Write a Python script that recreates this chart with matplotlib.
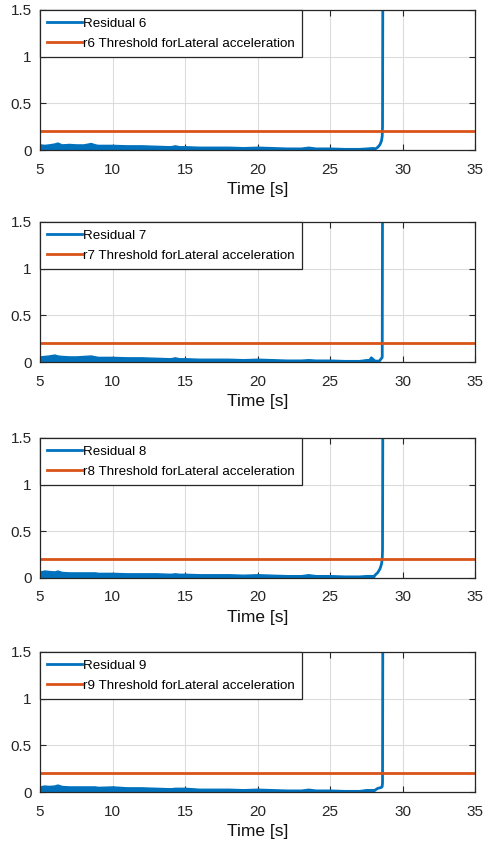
import numpy as np
import matplotlib
matplotlib.use("Agg")
import matplotlib.pyplot as plt

plt.rcParams['font.family'] = ['Liberation Sans', 'DejaVu Sans']

# residual numbers shown in the four panels
panels = [6, 7, 8, 9]
threshold = 0.2

# upper envelope of the noisy residual band (lower edge sits at 0)
t_env = [5, 5.3, 5.6, 6, 6.2, 6.5, 7, 7.5, 8, 8.5, 8.8, 9, 10, 11, 12, 13, 14, 14.3, 14.6, 15, 16,
         17, 18, 19, 20, 21, 22, 23, 23.5, 24, 25, 26, 27, 27.5, 28]
env_r6 = [0.06, 0.055, 0.06, 0.07, 0.08, 0.06, 0.065, 0.06, 0.06, 0.075, 0.06, 0.055, 0.055, 0.05, 0.05, 0.045, 0.04,
          0.05, 0.04, 0.04, 0.035, 0.035, 0.035, 0.03, 0.035, 0.03, 0.025, 0.025, 0.035, 0.025, 0.025, 0.02, 0.02, 0.025, 0.03]
env_r7 = [0.06, 0.065, 0.07, 0.08, 0.07, 0.065, 0.06, 0.06, 0.065, 0.07, 0.06, 0.055, 0.055, 0.05, 0.05, 0.045, 0.04,
          0.05, 0.04, 0.04, 0.035, 0.035, 0.035, 0.03, 0.035, 0.03, 0.025, 0.025, 0.03, 0.025, 0.025, 0.02, 0.02, 0.03, 0.03]
env_r8 = [0.07, 0.08, 0.075, 0.07, 0.08, 0.065, 0.06, 0.06, 0.06, 0.06, 0.06, 0.055, 0.055, 0.05, 0.05, 0.05, 0.045,
          0.05, 0.045, 0.045, 0.04, 0.04, 0.04, 0.035, 0.04, 0.035, 0.03, 0.03, 0.04, 0.03, 0.03, 0.025, 0.025, 0.03, 0.03]
env_r9 = [0.06, 0.07, 0.065, 0.07, 0.08, 0.065, 0.06, 0.06, 0.06, 0.06, 0.06, 0.055, 0.06, 0.05, 0.05, 0.045, 0.04,
          0.045, 0.045, 0.045, 0.035, 0.035, 0.035, 0.03, 0.035, 0.03, 0.025, 0.025, 0.035, 0.025, 0.025, 0.02, 0.02, 0.03, 0.03]
envelopes = [env_r6, env_r7, env_r8, env_r9]

# the rise at the fault time (line continues above the axis)
t_rise = [[28.1, 28.3, 28.45, 28.55, 28.6, 28.62, 28.64],
          [27.7, 27.85, 28.1, 28.4, 28.55, 28.6, 28.62],
          [28.1, 28.3, 28.45, 28.55, 28.6, 28.62, 28.64],
          [28.1, 28.3, 28.45, 28.55, 28.6, 28.62, 28.64]]
r_rise = [[0.01, 0.03, 0.06, 0.1, 0.15, 0.25, 1.7],
          [0.01, 0.045, 0.01, 0.01, 0.04, 0.05, 1.7],
          [0.03, 0.06, 0.1, 0.15, 0.2, 0.3, 1.7],
          [0.02, 0.04, 0.045, 0.05, 0.06, 0.1, 1.7]]

blue = '#0072BD'
orange = '#D95319'
dark = '#262626'

fig = plt.figure(figsize=(4.91, 8.49), dpi=100)
bottoms = [0.8233, 0.5736, 0.3192, 0.0671]

for k, num in enumerate(panels):
    ax = fig.add_axes([0.0815, bottoms[k], 0.886, 0.165])
    env = envelopes[k]
    ax.fill_between(t_env, 0, env, color=blue, lw=1)
    tt = t_env + t_rise[k]
    rr = [0.005] * len(t_env) + r_rise[k]
    ax.plot(tt, rr, color=blue, lw=2, label='Residual %d' % num)
    ax.plot([5, 35], [threshold, threshold], color=orange, lw=2,
            label='r%d Threshold forLateral acceleration' % num)

    ax.set_xlim(5, 35)
    ax.set_ylim(0, 1.5)
    ax.set_xticks([5, 10, 15, 20, 25, 30, 35])
    ax.set_yticks([0, 0.5, 1, 1.5])
    ax.set_yticklabels(['0', '0.5', '1', '1.5'])
    ax.grid(True, color='#dcdcdc', lw=0.8)
    ax.set_axisbelow(True)
    ax.tick_params(direction='in', top=True, right=True, length=4,
                   labelsize=11, colors=dark, width=0.8)
    ax.tick_params(axis='x', pad=9)
    ax.tick_params(axis='y', pad=6)
    for s in ax.spines.values():
        s.set_color(dark)
        s.set_linewidth(0.9)
    ax.set_xlabel('Time [s]', fontsize=12.5, color='#111111', labelpad=4)

    leg = ax.legend(loc='upper left', borderaxespad=0, fontsize=9.6,
                    handlelength=2.6, handletextpad=0.1, borderpad=0.55,
                    labelspacing=0.6, fancybox=False, framealpha=1)
    leg.get_frame().set_edgecolor(dark)
    leg.get_frame().set_linewidth(0.9)

fig.savefig('out.png', dpi=100)
